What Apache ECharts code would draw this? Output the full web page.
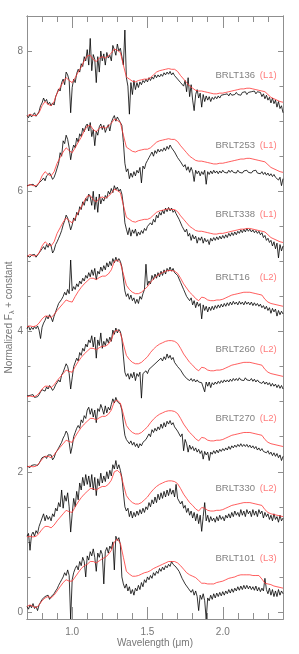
<!DOCTYPE html>
<html><head><meta charset="utf-8">
<script src="https://cdn.jsdelivr.net/npm/echarts@6/dist/echarts.min.js"></script>
<style>html,body{margin:0;padding:0;background:#fff}#c{width:299px;height:654px}</style>
</head><body><div id="c"></div>
<script>
// ---------- data ----------
const names   = ['BRLT136','BRLT253','BRLT338','BRLT16','BRLT260','BRLT270','BRLT330','BRLT101'];
const types   = ['L1','L1','L1','L2','L2','L2','L2','L3'];
const offsets = [7,6,5,4,3,2,1,0];
const labelY  = [7.65,6.66,5.67,4.77,3.75,2.76,1.76,0.76];

const xTickLabels = [1.0,1.5,2.0];
const xMinorTicks = [0.8,0.9,1.1,1.2,1.3,1.4,1.6,1.7,1.8,1.9,2.1,2.2,2.3];
const yTickLabels = [0,2,4,6,8];
const yMinorTicks = [0.5,1,1.5,2.5,3,3.5,4.5,5,5.5,6.5,7,7.5];

// observed spectra (relative flux, 0.70..2.40 um, step 0.01)
const b136 = [
0.08,0.05,0.10,0.06,0.09,0.12,0.07,0.10,0.14,0.22,
0.26,0.33,0.28,0.31,0.24,0.27,0.22,0.26,0.23,0.35,
0.40,0.46,0.43,0.55,0.60,0.52,0.70,0.66,0.58,0.12,
0.48,0.60,0.55,0.68,0.74,0.70,0.82,0.78,0.92,0.86,
1.02,0.80,1.18,0.72,0.95,0.88,0.55,0.92,0.70,1.00,
0.86,0.96,0.80,0.98,0.90,0.94,0.86,1.08,1.02,0.94,
1.10,1.00,1.04,0.92,0.80,1.30,0.62,0.50,0.10,0.55,
0.38,0.58,0.45,0.55,0.48,0.56,0.52,0.58,0.55,0.60,
0.56,0.62,0.58,0.63,0.60,0.66,0.62,0.66,0.63,0.67,
0.64,0.69,0.66,0.70,0.67,0.71,0.66,0.69,0.65,0.66,
0.60,0.62,0.55,0.56,0.50,0.58,0.42,0.62,0.35,0.52,
0.30,0.15,0.38,0.45,0.33,0.40,0.20,0.38,0.28,0.36,
0.30,0.35,0.28,0.34,0.31,0.35,0.32,0.36,0.33,0.37,
0.35,0.38,0.36,0.39,0.36,0.40,0.37,0.39,0.38,0.41,
0.38,0.40,0.37,0.41,0.39,0.42,0.38,0.41,0.39,0.42,
0.40,0.43,0.39,0.42,0.40,0.41,0.35,0.39,0.32,0.37,
0.30,0.34,0.26,0.33,0.25,0.30,0.20,0.28,0.18,0.22,
0.12];
const b253 = [
0.08,0.06,0.09,0.07,0.10,0.08,0.06,0.09,0.12,0.10,
0.16,0.19,0.15,0.22,0.20,0.26,0.22,0.17,0.20,0.26,
0.33,0.40,0.55,0.50,0.72,0.68,0.80,0.74,0.62,0.45,
0.58,0.66,0.62,0.76,0.70,0.82,0.78,0.90,0.85,0.93,
0.96,0.86,0.98,0.78,0.88,0.65,0.86,0.80,0.92,0.96,
0.88,0.94,0.84,0.90,0.95,0.86,0.98,1.04,1.08,1.00,
1.06,1.02,0.98,0.94,0.70,0.40,0.28,0.32,0.18,0.26,
0.20,0.28,0.22,0.30,0.26,0.34,0.12,0.36,0.32,0.40,
0.44,0.48,0.52,0.56,0.50,0.58,0.54,0.60,0.56,0.60,
0.57,0.62,0.58,0.64,0.60,0.66,0.62,0.63,0.56,0.55,
0.48,0.50,0.42,0.40,0.35,0.38,0.30,0.35,0.27,0.34,
0.28,0.14,0.30,0.25,0.29,0.22,0.28,0.24,0.30,0.10,
0.28,0.24,0.29,0.25,0.30,0.26,0.29,0.25,0.29,0.26,
0.30,0.27,0.29,0.26,0.30,0.27,0.30,0.27,0.29,0.26,
0.30,0.27,0.29,0.26,0.29,0.27,0.30,0.27,0.29,0.26,
0.29,0.27,0.30,0.26,0.28,0.25,0.28,0.24,0.27,0.23,
0.26,0.22,0.25,0.21,0.24,0.20,0.22,0.16,0.20,0.08,
0.18];
const b338 = [
0.08,0.10,0.06,0.09,0.07,0.10,0.06,0.09,0.11,0.15,
0.18,0.21,0.17,0.24,0.20,0.26,0.22,0.12,0.16,0.24,
0.28,0.33,0.38,0.44,0.52,0.58,0.66,0.62,0.54,0.45,
0.52,0.62,0.58,0.70,0.66,0.78,0.74,0.85,0.80,0.90,
0.86,0.96,0.92,0.80,1.00,0.74,0.92,0.70,0.96,0.82,
0.90,0.86,0.94,0.90,1.00,0.96,1.04,0.98,1.08,1.02,
1.06,1.00,1.03,0.96,0.80,0.55,0.46,0.38,0.48,0.36,
0.45,0.40,0.46,0.36,0.42,0.38,0.44,0.40,0.47,0.44,
0.50,0.48,0.55,0.52,0.60,0.56,0.66,0.62,0.70,0.66,
0.73,0.68,0.76,0.71,0.77,0.72,0.76,0.70,0.73,0.68,
0.66,0.60,0.58,0.50,0.52,0.42,0.46,0.36,0.40,0.30,
0.38,0.32,0.36,0.26,0.34,0.30,0.35,0.26,0.33,0.28,
0.31,0.24,0.33,0.29,0.34,0.30,0.35,0.31,0.36,0.32,
0.37,0.33,0.38,0.34,0.40,0.36,0.41,0.37,0.42,0.38,
0.43,0.40,0.45,0.41,0.46,0.42,0.47,0.43,0.46,0.42,
0.45,0.41,0.44,0.40,0.43,0.38,0.41,0.34,0.37,0.30,
0.33,0.27,0.30,0.22,0.28,0.18,0.26,0.05,0.24,0.15,
0.22];
const b16 = [
0.04,0.08,0.02,0.06,0.03,0.07,0.04,0.08,0.02,-0.10,
0.06,0.12,0.16,0.22,0.18,0.24,0.20,0.14,0.22,0.28,
0.34,0.40,0.38,0.46,0.50,0.56,0.52,0.60,0.54,1.02,
0.58,0.64,0.60,0.68,0.64,0.72,0.68,0.76,0.72,0.80,
0.76,0.84,0.78,0.88,0.80,0.90,0.74,0.86,0.82,0.92,
0.86,0.94,0.88,0.98,0.92,1.00,0.94,1.04,0.98,1.06,
1.00,1.04,1.00,0.92,0.75,0.58,0.50,0.54,0.46,0.52,
0.44,0.48,0.40,0.46,0.40,0.50,0.46,0.54,0.60,0.96,
0.66,0.72,0.68,0.80,0.74,0.82,0.76,0.84,0.78,0.86,
0.80,0.88,0.82,0.90,0.86,0.92,0.86,0.90,0.84,0.86,
0.80,0.78,0.70,0.68,0.60,0.58,0.50,0.52,0.44,0.48,
0.38,0.44,0.34,0.42,0.36,0.40,0.18,0.38,0.30,0.36,
0.28,0.35,0.30,0.36,0.31,0.37,0.33,0.38,0.34,0.39,
0.35,0.40,0.36,0.41,0.37,0.42,0.38,0.43,0.39,0.42,
0.38,0.43,0.39,0.42,0.38,0.43,0.39,0.42,0.38,0.42,
0.37,0.41,0.37,0.40,0.36,0.39,0.34,0.37,0.32,0.36,
0.30,0.34,0.26,0.33,0.28,0.32,0.22,0.30,0.24,0.29,
0.25];
const b260 = [
0.08,0.06,0.09,0.07,0.10,0.06,0.08,0.07,0.10,0.14,
0.17,0.19,0.15,0.21,0.18,0.23,0.20,0.16,0.19,0.24,
0.27,0.31,0.28,0.38,0.42,0.48,0.54,0.50,0.40,0.18,
0.34,0.50,0.56,0.62,0.58,0.70,0.66,0.76,0.72,0.82,
0.78,0.88,0.84,0.94,0.78,0.92,0.62,0.88,0.80,0.98,
0.76,0.86,0.80,0.90,0.84,0.92,0.86,1.02,0.96,1.05,
0.98,1.03,1.00,0.90,0.65,0.42,0.36,0.40,0.32,0.40,
0.34,0.42,0.30,0.40,0.36,0.42,0.05,0.40,0.38,0.44,
0.40,0.46,0.44,0.50,0.48,0.54,0.52,0.58,0.56,0.62,
0.58,0.64,0.60,0.68,0.62,0.66,0.60,0.63,0.56,0.57,
0.50,0.52,0.45,0.44,0.38,0.40,0.33,0.35,0.30,0.33,
0.29,0.32,0.28,0.31,0.28,0.30,0.27,0.29,0.14,0.28,
0.22,0.28,0.20,0.27,0.24,0.28,0.25,0.29,0.26,0.30,
0.27,0.31,0.28,0.31,0.28,0.32,0.29,0.33,0.30,0.33,
0.30,0.34,0.31,0.33,0.30,0.34,0.31,0.33,0.30,0.33,
0.29,0.32,0.28,0.31,0.28,0.30,0.26,0.29,0.25,0.28,
0.24,0.27,0.22,0.26,0.22,0.25,0.20,0.24,0.19,0.23,
0.18];
const b270 = [
0.08,0.10,0.06,0.09,0.07,0.10,0.08,0.09,0.12,0.16,
0.20,0.18,0.22,0.19,0.24,0.26,0.24,0.17,0.20,0.27,
0.30,0.34,0.36,0.42,0.48,0.52,0.58,0.54,0.42,0.26,
0.36,0.50,0.56,0.62,0.66,0.62,0.74,0.70,0.80,0.76,
0.88,0.92,0.82,0.90,0.78,0.88,0.70,0.90,0.86,0.96,
0.90,0.82,0.94,0.84,0.92,0.88,0.96,1.04,0.98,1.06,
1.00,1.02,0.96,0.88,0.68,0.52,0.46,0.48,0.40,0.44,
0.38,0.42,0.36,0.40,0.34,0.40,0.37,0.42,0.40,0.46,
0.48,0.54,0.50,0.60,0.56,0.62,0.58,0.64,0.60,0.68,
0.62,0.70,0.64,0.72,0.68,0.73,0.67,0.70,0.64,0.66,
0.58,0.60,0.50,0.54,0.30,0.46,0.40,0.28,0.38,0.32,
0.36,0.30,0.34,0.28,0.32,0.26,0.30,0.18,0.29,0.24,
0.28,0.16,0.28,0.25,0.30,0.26,0.31,0.27,0.32,0.29,
0.33,0.30,0.34,0.31,0.36,0.32,0.37,0.34,0.38,0.35,
0.39,0.36,0.40,0.36,0.39,0.36,0.39,0.35,0.38,0.34,
0.37,0.33,0.36,0.31,0.34,0.30,0.33,0.29,0.31,0.27,
0.30,0.25,0.28,0.23,0.27,0.22,0.26,0.20,0.24,0.16,
0.22];
const b330 = [
0.08,0.12,-0.12,0.10,0.14,0.08,0.16,0.12,0.22,0.28,
0.34,0.40,0.30,0.38,0.32,0.36,0.30,0.40,0.36,0.48,
0.44,0.56,0.50,0.74,0.48,0.66,0.58,0.70,0.50,0.14,
0.40,0.62,0.50,0.72,0.60,0.84,0.74,0.92,0.80,0.96,
0.82,0.94,0.78,0.96,0.74,0.92,0.66,0.90,0.80,0.98,
0.84,0.94,0.86,1.00,0.90,1.02,0.94,1.10,1.04,1.16,
1.04,1.10,1.02,0.92,0.70,0.50,0.44,0.48,0.36,0.44,
0.34,0.42,0.36,0.44,0.38,0.46,0.40,0.48,0.42,0.50,
0.46,0.56,0.50,0.60,0.54,0.64,0.56,0.68,0.60,0.70,
0.62,0.72,0.64,0.74,0.66,0.76,0.68,0.74,0.64,0.82,
0.62,0.64,0.54,0.58,0.48,0.52,0.42,0.48,0.38,0.44,
0.34,0.42,0.30,0.40,0.26,0.38,0.15,0.36,0.56,0.30,
0.38,0.28,0.36,0.30,0.34,0.28,0.36,0.30,0.38,0.32,
0.36,0.30,0.38,0.34,0.40,0.34,0.42,0.36,0.44,0.38,
0.42,0.36,0.46,0.38,0.44,0.36,0.46,0.40,0.44,0.36,
0.46,0.38,0.44,0.36,0.46,0.40,0.44,0.34,0.42,0.36,
0.40,0.32,0.38,0.30,0.40,0.32,0.36,0.28,0.38,0.30,
0.34];
const b101 = [
0.08,0.04,0.10,0.06,0.12,0.05,0.08,0.02,0.10,0.14,
0.18,0.16,0.22,0.20,0.24,0.18,0.22,0.20,0.26,0.30,
0.33,0.38,0.42,0.46,0.50,0.56,0.52,0.60,0.52,-0.10,
0.46,0.56,0.62,0.66,0.60,0.72,0.66,0.78,0.72,0.50,
0.80,0.74,0.86,0.80,0.90,0.78,0.58,0.84,0.78,0.88,
0.82,0.40,0.86,0.92,0.84,0.94,0.90,1.00,0.60,1.08,
1.02,1.06,0.96,0.50,0.40,0.34,0.40,0.30,0.36,0.26,
0.32,0.24,0.34,0.30,0.38,0.32,0.42,0.36,0.46,0.42,
0.50,0.46,0.52,0.48,0.56,0.52,0.58,0.55,0.62,0.58,
0.64,0.60,0.66,0.63,0.68,0.65,0.72,0.68,0.70,0.64,
0.64,0.58,0.56,0.48,0.48,0.40,0.42,0.34,0.36,0.28,
0.32,0.24,0.30,0.22,0.02,0.24,0.18,0.26,0.16,-0.10,
0.20,0.16,0.24,0.18,0.26,0.20,0.27,0.22,0.28,0.23,
0.29,0.24,0.30,0.26,0.32,0.27,0.33,0.28,0.34,0.30,
0.36,0.31,0.37,0.32,0.38,0.33,0.38,0.33,0.37,0.32,
0.36,0.31,0.37,0.30,0.35,0.29,0.34,0.30,0.48,0.32,
0.26,0.34,0.24,0.32,0.22,0.30,0.22,0.32,0.24,0.30,
0.26];

// spectral templates (relative flux, 0.70..2.40 um, step 0.02)
const tplL1 = [
0.07,0.10,0.08,0.08,0.12,0.22,0.28,0.24,0.22,0.28,
0.40,0.48,0.56,0.62,0.58,0.55,0.62,0.70,0.77,0.86,
0.93,0.94,0.88,0.85,0.90,0.92,0.90,0.93,0.97,1.03,
1.01,0.98,0.80,0.63,0.60,0.57,0.56,0.58,0.59,0.60,
0.60,0.62,0.66,0.70,0.72,0.73,0.74,0.75,0.74,0.74,
0.71,0.65,0.60,0.55,0.50,0.47,0.44,0.43,0.43,0.42,
0.41,0.40,0.39,0.39,0.40,0.40,0.41,0.42,0.43,0.44,
0.45,0.46,0.46,0.47,0.47,0.46,0.45,0.44,0.43,0.42,
0.38,0.34,0.32,0.30,0.28,0.27];
const tplL2 = [
0.07,0.08,0.07,0.08,0.12,0.18,0.22,0.22,0.20,0.24,
0.30,0.35,0.40,0.45,0.43,0.42,0.50,0.57,0.63,0.68,
0.72,0.76,0.76,0.74,0.77,0.79,0.79,0.82,0.88,1.00,
1.02,0.98,0.82,0.66,0.60,0.56,0.54,0.54,0.56,0.60,
0.64,0.70,0.75,0.79,0.82,0.84,0.86,0.87,0.87,0.86,
0.83,0.76,0.68,0.62,0.56,0.52,0.47,0.44,0.49,0.48,
0.45,0.44,0.44,0.45,0.45,0.46,0.48,0.50,0.52,0.53,
0.54,0.55,0.56,0.56,0.56,0.55,0.54,0.53,0.52,0.46,
0.42,0.40,0.39,0.38,0.37,0.36];
const tplL3 = [
0.08,0.10,0.08,0.06,0.10,0.16,0.20,0.22,0.20,0.24,
0.30,0.36,0.42,0.46,0.44,0.44,0.50,0.56,0.62,0.66,
0.68,0.72,0.72,0.70,0.73,0.76,0.78,0.82,0.88,1.00,
1.04,0.98,0.78,0.58,0.54,0.51,0.51,0.52,0.54,0.56,
0.57,0.59,0.62,0.64,0.66,0.68,0.70,0.72,0.72,0.72,
0.70,0.66,0.61,0.56,0.53,0.51,0.49,0.45,0.41,0.41,
0.40,0.40,0.40,0.42,0.43,0.44,0.46,0.48,0.49,0.50,
0.52,0.53,0.53,0.53,0.53,0.52,0.52,0.52,0.47,0.41,
0.40,0.39,0.37,0.36,0.35,0.34];

// ---------- layout / style ----------
const NAME_X = 1.952, TYPE_X = 2.246;
const AX = '#8f8f8f', TXT = '#777777', RED = '#ff3535';
const FONT = 'Liberation Sans, Arial, Helvetica, sans-serif';

const waveBlack = Array.from({length:171},(_,i)=> +(0.70+0.01*i).toFixed(2));
const waveRed   = Array.from({length:86}, (_,i)=> +(0.70+0.02*i).toFixed(2));
const observed = [b136,b253,b338,b16,b260,b270,b330,b101];
const templates = {L1:tplL1, L2:tplL2, L3:tplL3};

const series = [];
observed.forEach((arr,i)=>{
  series.push({type:'line', name:names[i], xAxisIndex:0, yAxisIndex:0, showSymbol:false, silent:true,
    lineStyle:{color:'#000', width:0.8}, data: waveBlack.map((w,j)=>[w, offsets[i]+arr[j]])});
});
observed.forEach((arr,i)=>{
  const t = templates[types[i]];
  series.push({type:'line', name:names[i]+' '+types[i], xAxisIndex:0, yAxisIndex:0, showSymbol:false, silent:true,
    lineStyle:{color:RED, width:0.8}, data: waveRed.map((w,j)=>[w, offsets[i]+t[j]])});
});
series.push({type:'scatter', symbolSize:0, silent:true, xAxisIndex:0, yAxisIndex:0,
  data: names.map((n,i)=>[NAME_X, labelY[i], n]),
  label:{show:true, position:'right', distance:0, formatter:p=>p.data[2], color:'#606060', fontSize:9.5, fontFamily:FONT}});
series.push({type:'scatter', symbolSize:0, silent:true, xAxisIndex:0, yAxisIndex:0,
  data: types.map((t,i)=>[TYPE_X, labelY[i], t]),
  label:{show:true, position:'right', distance:0, formatter:p=>'('+p.data[2]+')', color:'#ff5a5a', fontSize:9.5, fontFamily:FONT}});

function xAx(pos, ticks, len, withLabel){
  return {type:'value', position:pos, min:0.7, max:2.4,
    axisLine:{show:true, onZero:false, lineStyle:{color:AX, width:1}},
    axisTick:{show:true, inside:true, length:len, customValues:ticks, lineStyle:{color:AX, width:1}},
    axisLabel:{show:withLabel, customValues:ticks, margin:8, color:TXT, fontSize:10, fontFamily:FONT,
      formatter:v=>v.toFixed(1)},
    splitLine:{show:false}};
}
function yAx(pos, ticks, len, withLabel){
  return {type:'value', position:pos, min:-0.1, max:8.5,
    axisLine:{show:true, onZero:false, lineStyle:{color:AX, width:1}},
    axisTick:{show:true, inside:true, length:len, customValues:ticks, lineStyle:{color:AX, width:1}},
    axisLabel:{show:withLabel, customValues:ticks, margin:4, color:TXT, fontSize:10, fontFamily:FONT,
      formatter:v=>String(v)},
    splitLine:{show:false}};
}
const xMain = xAx('bottom', xTickLabels, 12, true);
xMain.name = 'Wavelength (\u03bcm)';
xMain.nameLocation = 'middle'; xMain.nameGap = 19; xMain.nameMoveOverlap = false;
xMain.nameTextStyle = {color:TXT, fontSize:10, fontFamily:FONT};
const yMain = yAx('left', yTickLabels, 5, true);
yMain.name = '{n|Normalized F}{s|\u03bb}{n| + constant}';
yMain.nameLocation = 'middle'; yMain.nameGap = 11; yMain.nameMoveOverlap = false;
yMain.nameTextStyle = {color:TXT, fontFamily:FONT, rich:{
  n:{fontSize:10, color:TXT, fontFamily:FONT, lineHeight:14},
  s:{fontSize:7, color:TXT, fontFamily:FONT, lineHeight:8, verticalAlign:'bottom'}}};

const chart = echarts.init(document.getElementById('c'), null, {renderer:'canvas'});
chart.setOption({
  animation:false, backgroundColor:'#fff',
  grid:{left:27, right:16, top:16, bottom:35, containLabel:false, outerBoundsMode:'none'},
  xAxis:[ xMain, xAx('bottom', xMinorTicks, 6, false), xAx('top', xTickLabels, 12, false), xAx('top', xMinorTicks, 6, false) ],
  yAxis:[ yMain, yAx('left', yMinorTicks, 3.5, false), yAx('right', yTickLabels, 5, false), yAx('right', yMinorTicks, 3.5, false) ],
  series: series
});
</script></body></html>
